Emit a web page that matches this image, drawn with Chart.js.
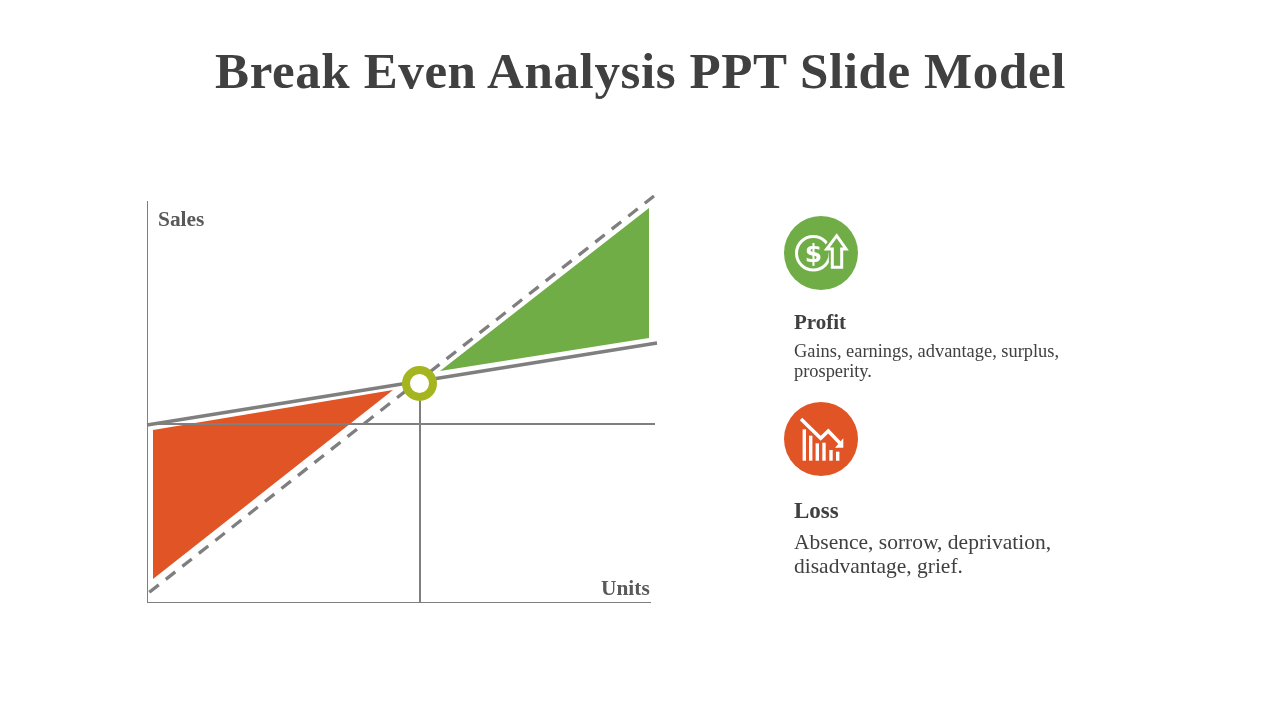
<!DOCTYPE html>
<html>
<head>
<meta charset="utf-8">
<title>Break Even Analysis</title>
<script src="https://cdn.jsdelivr.net/npm/chart.js@4/dist/chart.umd.min.js"></script>
<style>
  html, body { margin: 0; padding: 0; background: #fff; }
  #stage { position: relative; width: 1280px; height: 720px; overflow: hidden; font-family: "Liberation Serif", "DejaVu Serif", serif; color: #404040; }
  #chart { position: absolute; left: 0; top: 0; }
  .txt { position: absolute; white-space: nowrap; }
  #title { left: 0; width: 1281px; top: 40px; text-align: center; font-size: 51px; line-height: 62px; font-weight: bold; letter-spacing: 0.6px; }
  .axis { font-size: 21.4px; font-weight: bold; color: #595959; line-height: 24px; }
  .head { font-weight: bold; left: 794px; }
  .body { left: 794px; }
  svg { position: absolute; }
</style>
</head>
<body>
<div id="stage">
  <canvas id="chart" width="1280" height="720"></canvas>
  <div class="txt" id="title">Break Even Analysis PPT Slide Model</div>
  <div class="txt axis" id="ySales" style="left:158px;top:207px">Sales</div>
  <div class="txt axis" id="xUnits" style="left:601px;top:576px">Units</div>

  <svg style="left:784px;top:216px" width="74" height="74" viewBox="0 0 74 74">
    <circle cx="37" cy="37" r="37" fill="#70AD47"/>
    <circle cx="29.3" cy="37.3" r="16.8" fill="none" stroke="#fff" stroke-width="3"/>
    <text x="29.5" y="46" text-anchor="middle" font-family="DejaVu Sans" font-weight="bold" font-size="25" fill="#fff">$</text>
    <path d="M48.3 51.3 V33 H42.7 L52.7 19.7 L62 33 H57.7 V51.3 Z" fill="#70AD47" stroke="#70AD47" stroke-width="7"/>
    <path d="M48.3 51.3 V33 H42.7 L52.7 19.7 L62 33 H57.7 V51.3 Z" fill="#70AD47" stroke="#fff" stroke-width="3" stroke-linejoin="miter"/>
  </svg>
  <div class="txt head" id="profitHead" style="top:310px;font-size:21px;line-height:24px">Profit</div>
  <div class="txt body" id="profitBody" style="top:341px;font-size:18.4px;line-height:20px;color:#404040">Gains, earnings, advantage, surplus,<br>prosperity.</div>

  <svg style="left:784px;top:402px" width="74" height="74" viewBox="0 0 74 74">
    <circle cx="37" cy="37" r="37" fill="#E15425"/>
    <path d="M17 17 L36.7 36.3 L44.3 29 L57.7 43" fill="none" stroke="#fff" stroke-width="3.5"/>
    <path d="M59.3 36.3 V45.7 H51 Z" fill="#fff"/>
    <g stroke="#fff" stroke-width="3.4" fill="none">
      <path d="M20.3 58.7 V27.3"/><path d="M26.7 58.7 V33.7"/><path d="M33.3 58.7 V41.3"/><path d="M40 58.7 V40.7"/><path d="M47 58.7 V48"/><path d="M53.7 58.7 V49.7"/>
    </g>
  </svg>
  <div class="txt head" id="lossHead" style="top:498px;font-size:23px;line-height:26px">Loss</div>
  <div class="txt body" id="lossBody" style="top:530px;font-size:21.5px;line-height:24px">Absence, sorrow, deprivation,<br>disadvantage, grief.</div>
</div>

<script>
  // values (units on both axes, 5px to the unit)
  const revenueX = [0.46, 101.4];
  const revenueY = [2.14, 81.4];
  const costX = [0, 102];
  const costY = [35.6, 52];
  const fixedX = [0, 101.6];
  const fixedY = [35.8, 35.8];
  const breakEvenX = [54.6, 54.6];
  const breakEvenY = [43.8, 0];
  const lossX = [1.2, 49.2, 1.2];
  const lossY = [34.6, 42.6, 4.8];
  const profitX = [58.6, 100.4, 100.4];
  const profitY = [46.4, 79, 53];
  const markerX = [54.5];
  const markerY = [43.9];

  const GREY = "#7F7F7F";
  const pts = (xs, ys) => xs.map((x, i) => ({ x, y: ys[i] }));

  const lineSet = (xs, ys, width, extra) => Object.assign({
    data: pts(xs, ys),
    showLine: true,
    borderColor: GREY,
    borderWidth: width,
    pointRadius: 0,
    fill: false,
    tension: 0,
    clip: false,
    borderCapStyle: "butt"
  }, extra);

  const areaSet = (xs, ys, colour) => ({
    data: pts(xs, ys),
    showLine: true,
    borderWidth: 0,
    borderColor: colour,
    backgroundColor: colour,
    pointRadius: 0,
    fill: "shape",
    tension: 0,
    clip: false
  });

  new Chart(document.getElementById("chart"), {
    type: "scatter",
    data: {
      datasets: [
        // first in the list ends up on top
        { data: pts(markerX, markerY), pointRadius: 13.5, pointHoverRadius: 13.5, borderWidth: 8, borderColor: "#A5B51F", backgroundColor: "#fff", clip: false },
        lineSet(costX, costY, 3.3),
        lineSet(revenueX, revenueY, 3.3, { borderDash: [12, 9] }),
        lineSet(fixedX, fixedY, 2),
        lineSet(breakEvenX, breakEvenY, 2),
        areaSet(lossX, lossY, "#E15425"),
        areaSet(profitX, profitY, "#70AD47")
      ]
    },
    options: {
      responsive: false,
      animation: false,
      layout: { padding: { left: 147, top: 201, right: 630, bottom: 118 } },
      plugins: { legend: { display: false }, tooltip: { enabled: false } },
      scales: {
        x: { type: "linear", min: 0, max: 100.6, grid: { display: false, drawTicks: false }, ticks: { display: false }, border: { color: GREY, width: 1 } },
        y: { type: "linear", min: 0.2, max: 80.4, grid: { display: false, drawTicks: false }, ticks: { display: false }, border: { color: GREY, width: 1 } }
      }
    }
  });
</script>
</body>
</html>
